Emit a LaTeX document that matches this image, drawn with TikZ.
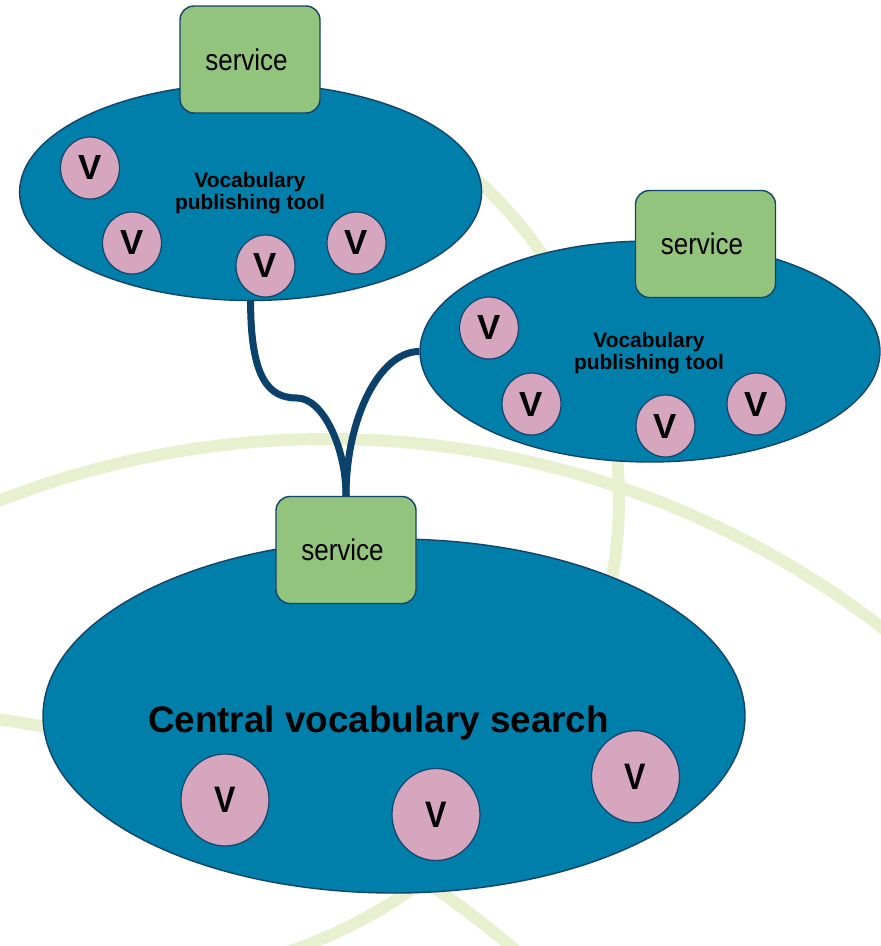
\documentclass[tikz,border=0pt]{standalone}
\usepackage{fontspec}
\setmainfont{Liberation Sans}
\newfontfamily\narrowfont[FakeStretch=0.87]{Liberation Sans}
\usetikzlibrary{shapes.geometric}

\definecolor{poolblue}{HTML}{017FAB}
\definecolor{edgenavy}{HTML}{12436B}
\definecolor{svcgreen}{HTML}{93C47D}
\definecolor{vpink}{HTML}{D5A6BD}
\definecolor{linknavy}{HTML}{0B426C}
\definecolor{arcgreen}{HTML}{E8F0D0}

\begin{document}
\begin{tikzpicture}[x=1bp,y=-1bp,
  pool/.style={ellipse, draw=edgenavy, line width=1.4bp, fill=poolblue, inner sep=0pt},
  svcbox/.style={rectangle, rounded corners=14bp, draw=edgenavy, line width=1.4bp,
    fill=svcgreen, minimum width=140bp, minimum height=107bp, inner sep=0pt,
    font=\narrowfont\fontsize{30}{30}\selectfont},
  vsmall/.style={ellipse, draw=edgenavy, line width=1.2bp, fill=vpink,
    minimum width=59bp, minimum height=62bp, inner sep=0pt,
    font=\bfseries\fontsize{35}{35}\selectfont},
  vbig/.style={ellipse, draw=edgenavy, line width=1.2bp, fill=vpink,
    minimum width=88bp, minimum height=92bp, inner sep=0pt,
    font=\narrowfont\bfseries\fontsize{37}{37}\selectfont},
  toollabel/.style={align=center, inner sep=0pt, font=\bfseries\fontsize{21}{22.5}\selectfont},
  link/.style={draw=linknavy, line width=7bp, line cap=butt},
  bgarc/.style={draw=arcgreen, line width=12bp}
]
\useasboundingbox (0,0) rectangle (881,946);

% pale background rings
\begin{scope}
  \clip (0,0) rectangle (881,946);
  \draw[bgarc] (187,500) ++(-48:432) arc[start angle=-48, end angle=14, radius=432];
  \draw[bgarc] (328,1347) ++(-115:908) arc[start angle=-115, end angle=-48, radius=908];
  \draw[bgarc] (-131.4,1705) ++(-86:994) arc[start angle=-86, end angle=-44, radius=994];
  \draw[bgarc] (132.4,490.3) ++(50:487) arc[start angle=50, end angle=72, radius=487];
\end{scope}

% publishing tool, top left
\node[pool, minimum width=462bp, minimum height=217bp] (toolA) at (250.6,192) {};
\node[svcbox] (svcA) at (250,59.5) {service\kern7bp};
\node[toollabel] (labelA) at (250,193) {Vocabulary\\publishing tool};
\node[vsmall] (vA1) at (90,168) {V};
\node[vsmall] (vA2) at (132,243) {V};
\node[vsmall] (vA3) at (265.5,266) {V};
\node[vsmall] (vA4) at (356.5,243) {V};

% publishing tool, right
\node[pool, minimum width=460bp, minimum height=221bp] (toolB) at (650,351.5) {};
\node[svcbox] (svcB) at (705.5,244) {service\kern7bp};
\node[toollabel] (labelB) at (649,353) {Vocabulary\\publishing tool};
\node[vsmall] (vB1) at (489,328) {V};
\node[vsmall] (vB2) at (531.5,404) {V};
\node[vsmall] (vB3) at (665.5,426) {V};
\node[vsmall] (vB4) at (756.5,404) {V};

% central search
\node[pool, minimum width=702bp, minimum height=354bp] (central) at (394,716) {};
\node[svcbox] (svcC) at (346,550) {service\kern7bp};
\node[anchor=base, inner sep=0pt, font=\bfseries\fontsize{37}{37}\selectfont] (ctitle) at (378.5,732) {Central vocabulary search};
\node[vbig] (vC1) at (225,800) {V};
\node[vbig] (vC2) at (436,814.5) {V};
\node[vbig] (vC3) at (635.5,776.7) {V};

% links into the central service
\coordinate (bend) at (297,398);
\draw[link] (toolA.south) .. controls +(0,78) and +(-28,0) .. (bend)
  .. controls +(26,0) and +(0,-48) .. (svcC.north);
\draw[link] (toolB.west) .. controls +(-40,0) and +(0,-77) .. (svcC.north);
\end{tikzpicture}
\end{document}
